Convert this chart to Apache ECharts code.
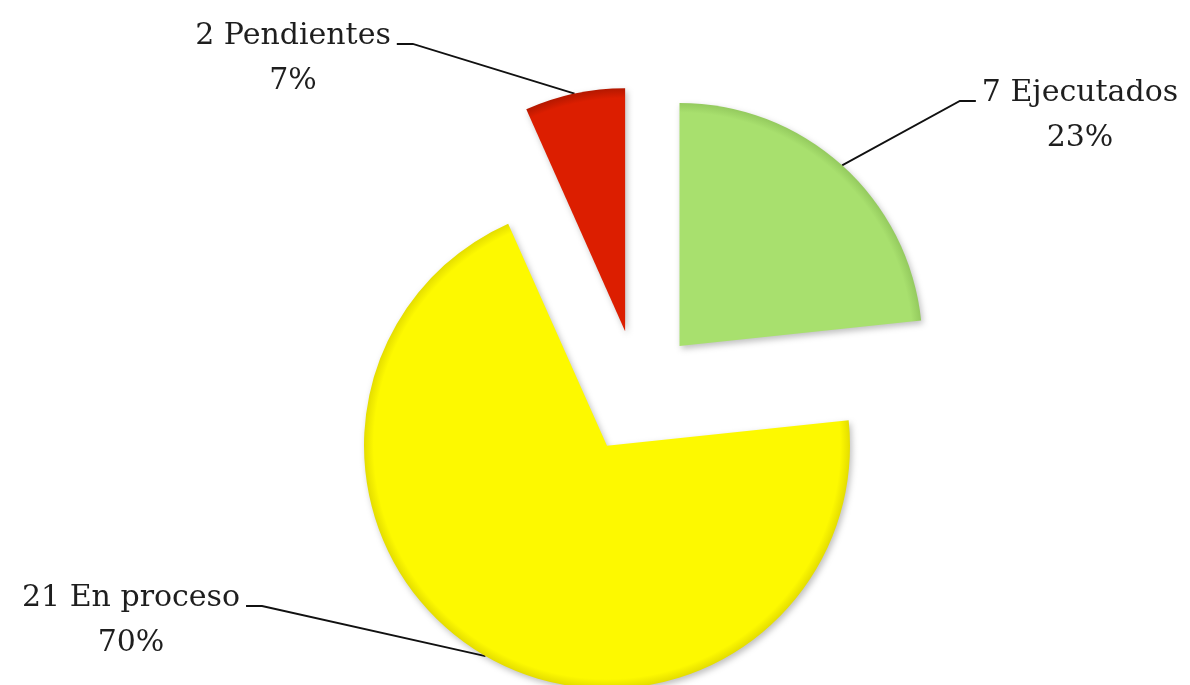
<!DOCTYPE html>
<html><head><meta charset="utf-8">
<script src="https://cdn.jsdelivr.net/npm/echarts@6/dist/echarts.min.js"></script>
<style>html,body{margin:0;padding:0;background:#fff}#chart{width:1190px;height:685px}</style>
</head><body><div id="chart"></div>
<script>
// ---- data ----
const categories = ['Ejecutados', 'En proceso', 'Pendientes'];
const values = [7, 21, 2];

// ---- styling / layout ----
const sliceColors = ['#a8e06e', '#fdf900', '#dc1e00'];
const sliceEdgeColors = ['#94ca5e', '#e4dd00', '#b41800'];
const labelCenters = [[1080, 116], [131, 621], [293, 59]];
const PIE_CENTER = [638, 392];
const PIE_RADIUS = 243;
const EXPLODE = 62;
const FONT_SIZE = 30, LINE_HEIGHT = 45;

const total = values.reduce((a, b) => a + b, 0);
// explosion offset of every slice along its mid angle (computed from the data)
const offsets = [];
let acc = 0;
values.forEach(v => {
  const mid = -Math.PI / 2 + 2 * Math.PI * (acc + v / 2) / total;
  offsets.push([Math.cos(mid) * EXPLODE, Math.sin(mid) * EXPLODE]);
  acc += v;
});

const hidden = {
  itemStyle: { color: 'rgba(0,0,0,0)', borderWidth: 0, shadowBlur: 0, shadowColor: 'rgba(0,0,0,0)' },
  label: { show: false },
  labelLine: { show: false }
};

function makeSeries(k) {
  const c = [PIE_CENTER[0] + offsets[k][0], PIE_CENTER[1] + offsets[k][1]];
  return {
    type: 'pie',
    center: c,
    radius: PIE_RADIUS,
    startAngle: 90,
    clockwise: true,
    avoidLabelOverlap: false,
    percentPrecision: 0,
    emphasis: { disabled: true },
    data: categories.map((name, i) => {
      const item = { name: name, value: values[i] };
      if (i !== k) return Object.assign(item, hidden);
      item.itemStyle = {
        color: {
          type: 'radial', x: c[0], y: c[1], r: PIE_RADIUS, global: true,
          colorStops: [
            { offset: 0, color: sliceColors[i] },
            { offset: 0.96, color: sliceColors[i] },
            { offset: 1, color: sliceEdgeColors[i] }
          ]
        },
        shadowBlur: 6,
        shadowOffsetX: 2,
        shadowOffsetY: 3,
        shadowColor: 'rgba(0,0,0,0.25)'
      };
      return item;
    }),
    label: {
      show: true,
      position: 'outside',
      formatter: '{c} {b}\n{d}%',
      fontFamily: 'DejaVu Serif',
      fontSize: FONT_SIZE,
      lineHeight: LINE_HEIGHT,
      color: '#1e1e1e',
      align: 'center'
    },
    labelLine: {
      show: true,
      length: 20,
      length2: 10,
      smooth: false,
      lineStyle: { color: '#111111', width: 1.8 }
    },
    labelLayout: function (params) {
      const i = params.dataIndex;
      if (i !== k || !params.labelLinePoints) return {};
      const lx = labelCenters[i][0], ly = labelCenters[i][1];
      const w = params.labelRect.width, h = params.labelRect.height;
      const p0 = params.labelLinePoints[0];
      const toRight = p0[0] > lx;
      const edgeX = toRight ? lx + w / 2 + 6 : lx - w / 2 - 6;
      const stubX = toRight ? edgeX + 16 : edgeX - 16;
      const lineY = ly - h / 2 + 30;
      return {
        x: lx, y: ly, align: 'center', verticalAlign: 'middle',
        labelLinePoints: [p0, [stubX, lineY], [edgeX, lineY]]
      };
    }
  };
}

const chart = echarts.init(document.getElementById('chart'), null, { renderer: 'canvas' });
chart.setOption({
  animation: false,
  backgroundColor: '#ffffff',
  series: categories.map((_, k) => makeSeries(k))
});
</script></body></html>
